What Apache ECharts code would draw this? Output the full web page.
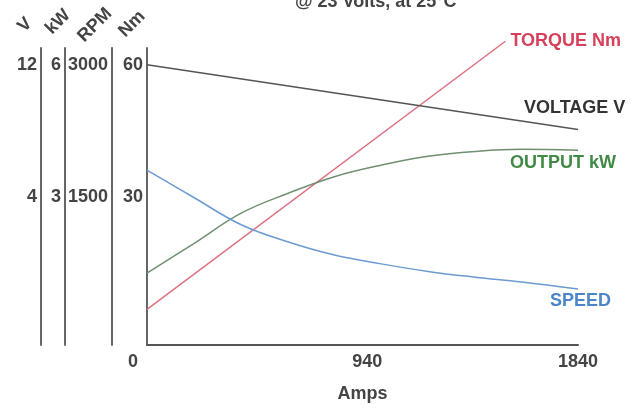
<!DOCTYPE html>
<html>
<head>
<meta charset="utf-8">
<script src="https://cdn.jsdelivr.net/npm/echarts@6/dist/echarts.min.js"></script>
<style>
html,body{margin:0;padding:0;background:#fff;}
#c{width:638px;height:408px;}
</style>
</head>
<body>
<div id="c"></div>
<script>
// ---- data ----
var titleText = '@ 23 Volts, at 25\u00b0C';
var ampsTicks = [0, 940, 1840];
var nmTicks = [30, 60];
var rpmTicks = [1500, 3000];
var kwTicks = [3, 6];
var vTicks = [4, 12];
var unitNames = ['V', 'kW', 'RPM', 'Nm'];

var amps = [0, 200, 400, 600, 800, 1000, 1200, 1400, 1600, 1840];
var speedRpm = [1810, 1500, 1195, 1000, 850, 750, 665, 600, 545, 465];
var outputKw = [1.29, 1.96, 2.64, 3.09, 3.47, 3.73, 3.93, 4.04, 4.09, 4.07];
var torqueAmps = [0, 1530];
var torqueNm = [4.7, 65.3];
var voltageAmps = [0, 1840];
var voltageV = [12, 8.1];

function pairs(xs, ys) { return xs.map(function (x, i) { return [x, ys[i]]; }); }

var font = '"Liberation Sans", Arial, sans-serif';
var txt = '#444';

function yAxisDef(min, max, offset, ticks) {
  return {
    type: 'value', position: 'left', offset: offset, min: min, max: max,
    axisLine: { show: true, onZero: false, lineStyle: { color: '#666', width: 2 } },
    axisTick: { show: false },
    splitLine: { show: false },
    axisLabel: {
      customValues: ticks, margin: 4, color: txt, fontSize: 18,
      fontWeight: 'bold', fontFamily: font,
      formatter: function (v) { return String(v); }
    }
  };
}

var chart = echarts.init(document.getElementById('c'));
var nameCenters = [[25, 25], [58, 22], [95, 25], [132, 24]];
var option = {
  animation: false,
  backgroundColor: '#fff',
  title: {
    text: titleText, left: 290, top: -12,
    textStyle: { fontSize: 18, fontWeight: 'bold', color: '#444', fontFamily: font }
  },
  grid: { left: 147, right: 60, top: 48, bottom: 58 },
  xAxis: {
    type: 'value', min: 0, max: 1840,
    name: 'Amps', nameLocation: 'middle', nameGap: 40,
    nameTextStyle: { fontSize: 18, fontWeight: 'bold', color: txt, fontFamily: font },
    axisLine: { show: true, onZero: false, lineStyle: { color: '#555', width: 2 } },
    axisTick: { show: false },
    splitLine: { show: false },
    axisLabel: {
      customValues: ampsTicks, margin: 8, color: txt, fontSize: 18,
      fontWeight: 'bold', fontFamily: font,
      formatter: function (v) { return v === 0 ? '{z|0}' : String(v); },
      rich: { z: { padding: [0, 28, 0, 0], fontSize: 18, fontWeight: 'bold', color: txt, fontFamily: font } }
    }
  },
  yAxis: [
    yAxisDef(-3.3333, 63.7778, 0, nmTicks),
    yAxisDef(-166.67, 3188.89, 35, rpmTicks),
    yAxisDef(-0.33333, 6.37778, 82, kwTicks),
    yAxisDef(-4.8889, 13.0074, 106, vTicks)
  ],
  graphic: unitNames.map(function (n, i) {
    return {
      type: 'text', x: nameCenters[i][0], y: nameCenters[i][1], rotation: Math.PI / 4,
      style: { text: n, fill: txt, font: 'bold 18px ' + font, align: 'center', verticalAlign: 'middle' }
    };
  }),
  series: [
    {
      name: 'TORQUE Nm', type: 'line', yAxisIndex: 0, clip: false, symbol: 'none',
      data: pairs(torqueAmps, torqueNm),
      lineStyle: { color: '#e07080', width: 1.5 },
      endLabel: { show: true, formatter: 'TORQUE Nm', color: '#d6405a', fontSize: 18, fontWeight: 'bold', fontFamily: font, distance: 5 }
    },
    {
      name: 'VOLTAGE V', type: 'line', yAxisIndex: 3, symbol: 'none',
      data: pairs(voltageAmps, voltageV),
      lineStyle: { color: '#555', width: 1.5 },
      endLabel: { show: true, formatter: 'VOLTAGE V', color: '#333', fontSize: 18, fontWeight: 'bold', fontFamily: font, offset: [-62, -21] }
    },
    {
      name: 'OUTPUT kW', type: 'line', yAxisIndex: 2, symbol: 'none', smooth: 0.4,
      data: pairs(amps, outputKw),
      lineStyle: { color: '#6f9070', width: 1.5 },
      endLabel: { show: true, formatter: 'OUTPUT kW', color: '#3f8a44', fontSize: 18, fontWeight: 'bold', fontFamily: font, offset: [-76, 13] }
    },
    {
      name: 'SPEED', type: 'line', yAxisIndex: 1, symbol: 'none', smooth: 0.4,
      data: pairs(amps, speedRpm),
      lineStyle: { color: '#6c9bd2', width: 1.5 },
      endLabel: { show: true, formatter: 'SPEED', color: '#4a86c8', fontSize: 18, fontWeight: 'bold', fontFamily: font, offset: [-36, 12] }
    }
  ]
};
chart.setOption(option);
</script>
</body>
</html>
